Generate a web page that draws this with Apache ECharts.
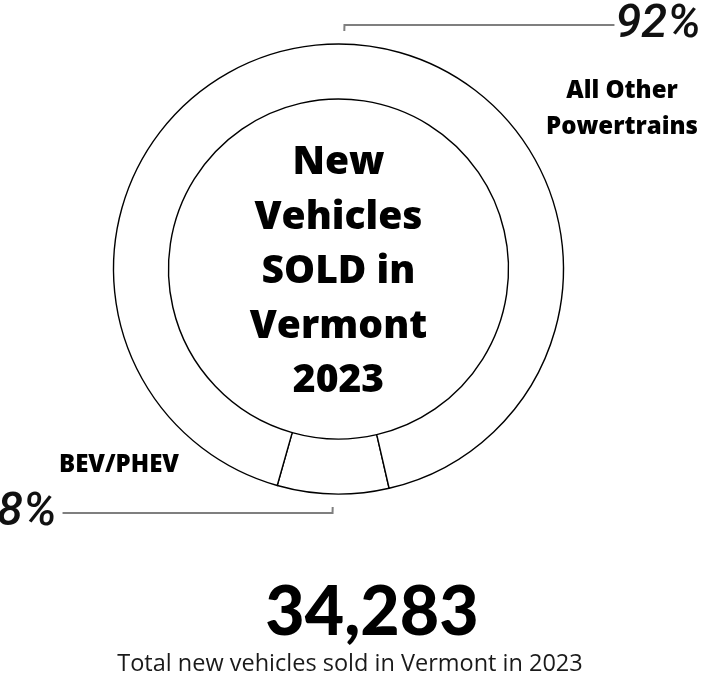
<!DOCTYPE html>
<html>
<head>
<meta charset="utf-8">
<script src="https://cdn.jsdelivr.net/npm/echarts@6/dist/echarts.min.js"></script>
<style>
  html, body { margin: 0; padding: 0; background: #fff; }
  #chart { width: 703px; height: 679px; }
</style>
</head>
<body>
<div id="chart"></div>
<script>
// 数据
const categories = ['BEV/PHEV', 'All Other Powertrains']
const shares = [8, 92]
const centerLines = ['New', 'Vehicles', 'SOLD in', 'Vermont', '2023']
const totalSold = 34283
const footnote = 'Total new vehicles sold in Vermont in 2023'

const chart = echarts.init(document.getElementById('chart'))

const center = [338.5, 269]
const pieData = categories.map((name, i) => ({ name, value: shares[i] }))
// 左边标签离线远一点，右边近一点
const labelGap = [6, 1]
const heavy = "'Open Sans', Lato, sans-serif"

chart.setOption({
  backgroundColor: '#fff',
  animation: false,
  series: [
    // 环形
    {
      type: 'pie',
      center: center,
      radius: [170, 225],
      startAngle: 283,
      silent: true,
      label: { show: false },
      labelLine: { show: false },
      itemStyle: { color: '#fff', borderColor: '#000', borderWidth: 1.4 },
      data: pieData
    },
    // 百分比标签（引线离开环一点）
    {
      type: 'pie',
      center: center,
      radius: [0, 238],
      startAngle: 283,
      silent: true,
      itemStyle: { color: 'transparent', borderWidth: 0 },
      label: {
        show: true,
        position: 'outside',
        formatter: (p) => p.value + '%',
        fontFamily: 'Roboto, sans-serif',
        fontStyle: 'italic',
        fontWeight: 500,
        fontSize: 47,
        color: '#111',
        width: 100,
        bleedMargin: 0
      },
      labelLine: {
        show: true,
        length: 6,
        length2: 270,
        lineStyle: { color: '#7f7f7f', width: 2 }
      },
      data: pieData.map((d, i) => ({
        ...d,
        label: { distanceToLabelLine: labelGap[i] }
      }))
    }
  ],
  graphic: [
    {
      type: 'text',
      style: {
        text: centerLines.join('\n'),
        x: center[0], y: 272,
        align: 'center', verticalAlign: 'middle',
        fontFamily: heavy, fontWeight: 800,
        fontSize: 39, lineHeight: 54.5, fill: '#000'
      }
    },
    {
      type: 'text',
      style: {
        text: 'All Other\nPowertrains',
        x: 622, y: 109,
        align: 'center', verticalAlign: 'middle',
        fontFamily: heavy, fontWeight: 800,
        fontSize: 24, lineHeight: 36, fill: '#000'
      }
    },
    {
      type: 'text',
      style: {
        text: categories[0],
        x: 119, y: 465,
        align: 'center', verticalAlign: 'middle',
        fontFamily: heavy, fontWeight: 800,
        fontSize: 24, fill: '#000'
      }
    },
    {
      type: 'text',
      style: {
        text: totalSold.toLocaleString('en-US'),
        x: 372, y: 613,
        align: 'center', verticalAlign: 'middle',
        fontFamily: 'Lato, sans-serif', fontWeight: 900,
        fontSize: 68, fill: '#000'
      }
    },
    {
      type: 'text',
      style: {
        text: footnote,
        x: 350, y: 664,
        align: 'center', verticalAlign: 'middle',
        fontFamily: "'Open Sans', sans-serif", fontWeight: 'normal',
        fontSize: 23.5, fill: '#1a1a1a'
      }
    }
  ]
})
</script>
</body>
</html>
